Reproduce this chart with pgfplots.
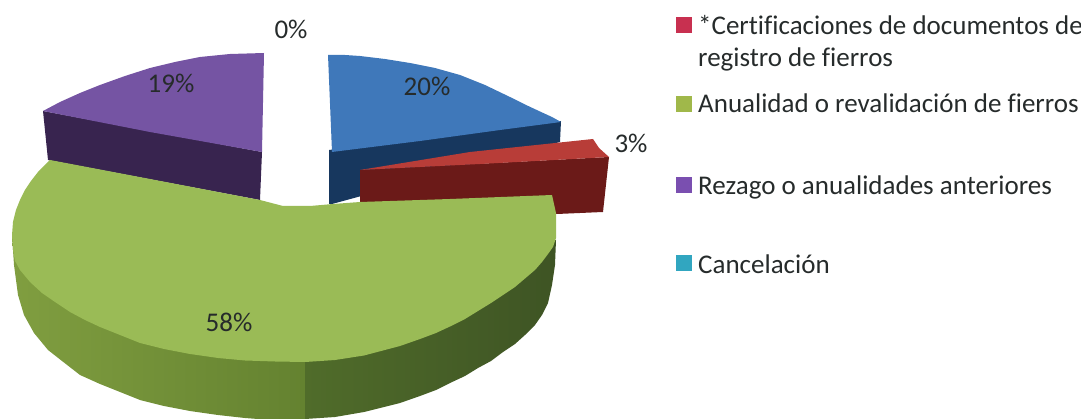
\documentclass[border=0pt]{standalone}
\usepackage{pgfplots}
\pgfplotsset{compat=1.18}
\usepackage{fontspec}
\setmainfont{Carlito}[Ligatures=NoCommon]
\definecolor{bluetop}{HTML}{3F78BA}
\definecolor{blueside}{HTML}{17375E}
\definecolor{redtop}{HTML}{B83D38}
\definecolor{redside}{HTML}{6B1A18}
\definecolor{purptop}{HTML}{7554A3}
\definecolor{purpside}{HTML}{38244F}
\definecolor{greentop}{HTML}{9ABB56}
\definecolor{lab}{HTML}{262B2B}
\definecolor{kred}{HTML}{C83050}
\definecolor{kgreen}{HTML}{A0B84A}
\definecolor{kpurp}{HTML}{7A4FB0}
\definecolor{kteal}{HTML}{31A6C0}
\newcommand{\pl}[3]{\node[text=lab, font=\fontsize{27}{30}\selectfont, anchor=center] at (axis cs:#1,#2) {#3};}
\newcommand{\lgd}[3]{\node[text=lab, font=\fontsize{27}{30}\selectfont, anchor=base west, inner sep=0pt] at (axis cs:#1,#2) {#3};}
\begin{document}
\begin{tikzpicture}
\begin{axis}[
  scale only axis, width=1081pt, height=419pt,
  xmin=0, xmax=1081, ymin=0, ymax=419, y dir=reverse,
  hide axis, clip=true,
  every axis plot/.append style={draw=none, forget plot},
]
% blue slice: side, then top
\addplot[fill=blueside] coordinates {(329,150)(561,121)(560,142)(332,204)(329,204)} -- cycle;
\addplot[fill=bluetop] coordinates {(328,55)(345,55)(360,56)(385,59)(410,63)(435,68)(460,75)(485,85)(510,97)(525,104.5)(540,111.5)(552,117)(561,122)(500,130)(420,141)(332,152)} -- cycle;
% purple slice
\addplot[fill=purpside] coordinates {(43,111)(262,152)(260,200)(48,160)} -- cycle;
\addplot[fill=purptop] coordinates {(264,53)(230,54)(200,57)(175,62)(150,68)(125,76)(100,85)(80,93)(60,102)(43,111)(150,132)(262,152)} -- cycle;
% red slice
\addplot[fill=redside] coordinates {(360,170)(609,157)(603,212)(557,214)(360,204)} -- cycle;
\addplot[fill=redtop] coordinates {(360,170)(470,152)(593,139)(599,148)(609,157)(480,164)} -- cycle;
% green slice: side, left and right of the seam
\addplot[shade, shading angle=0, left color={rgb,255:red,128;green,158;blue,64}, right color={rgb,255:red,100;green,130;blue,48}] coordinates {(12,235)(14,265)(18,295)(24,315)(34,333)(48,350)(62,361)(80,375)(100,384)(120,392)(140,400)(164,406)(190,411)(218,415)(245,418)(258,419)(305,419)(305,300)} -- cycle;
\addplot[shade, shading angle=0, left color={rgb,255:red,80;green,108;blue,42}, right color={rgb,255:red,62;green,84;blue,36}] coordinates {(305,300)(305,419)(335,417)(364,412)(400,403)(420,396)(436,390)(450,383)(465,376)(478,368)(491,361)(503,352)(515,344)(525,335)(535,325)(542,315)(548,303)(552,285)(555,265)(556,240)} -- cycle;
% green top
\addplot[fill=greentop] coordinates {(50,160)(44,166)(38,172)(31,181)(25,190)(20,200)(16,210)(13,222)(12,235)(13,250)(15,261)(20,270)(30,282)(42,293)(55,302)(70,312)(85,320)(100,327)(120,335)(140,343)(164,349)(190,354)(218,358)(245,360.5)(275,361.5)(305,362)(335,360)(364,355.5)(400,346)(420,339)(436,333)(450,326.5)(465,319)(478,311)(491,303)(503,295)(515,287)(525,278.5)(535,270)(542,262)(548,254)(553,247)(556,238)(556,213)(552,195)(450,199)(360,202)(333,204)(310,206)(283,206)(260,200)(150,179)} -- cycle;
% legend keys
\addplot[only marks, mark=square*, mark size=7.5pt, mark options={draw=kred, fill=kred}] coordinates {(684,25)};
\addplot[only marks, mark=square*, mark size=7.5pt, mark options={draw=kgreen, fill=kgreen}] coordinates {(684,104)};
\addplot[only marks, mark=square*, mark size=7.5pt, mark options={draw=kpurp, fill=kpurp}] coordinates {(684,185)};
\addplot[only marks, mark=square*, mark size=7.5pt, mark options={draw=kteal, fill=kteal}] coordinates {(684,263)};
% labels
\pl{291}{29}{0\%}
\pl{171}{83}{19\%}
\pl{427}{86}{20\%}
\pl{631}{143}{3\%}
\pl{229}{322}{58\%}
\lgd{698}{35}{*Certificaciones de documentos de}
\lgd{698}{67}{registro de fierros}
\lgd{698}{113}{Anualidad o revalidación de fierros}
\lgd{698}{195}{Rezago o anualidades anteriores}
\lgd{698}{274}{Cancelación}
\end{axis}
\pgfresetboundingbox
\useasboundingbox (0,0) rectangle (1081pt,419pt);
\end{tikzpicture}
\end{document}
